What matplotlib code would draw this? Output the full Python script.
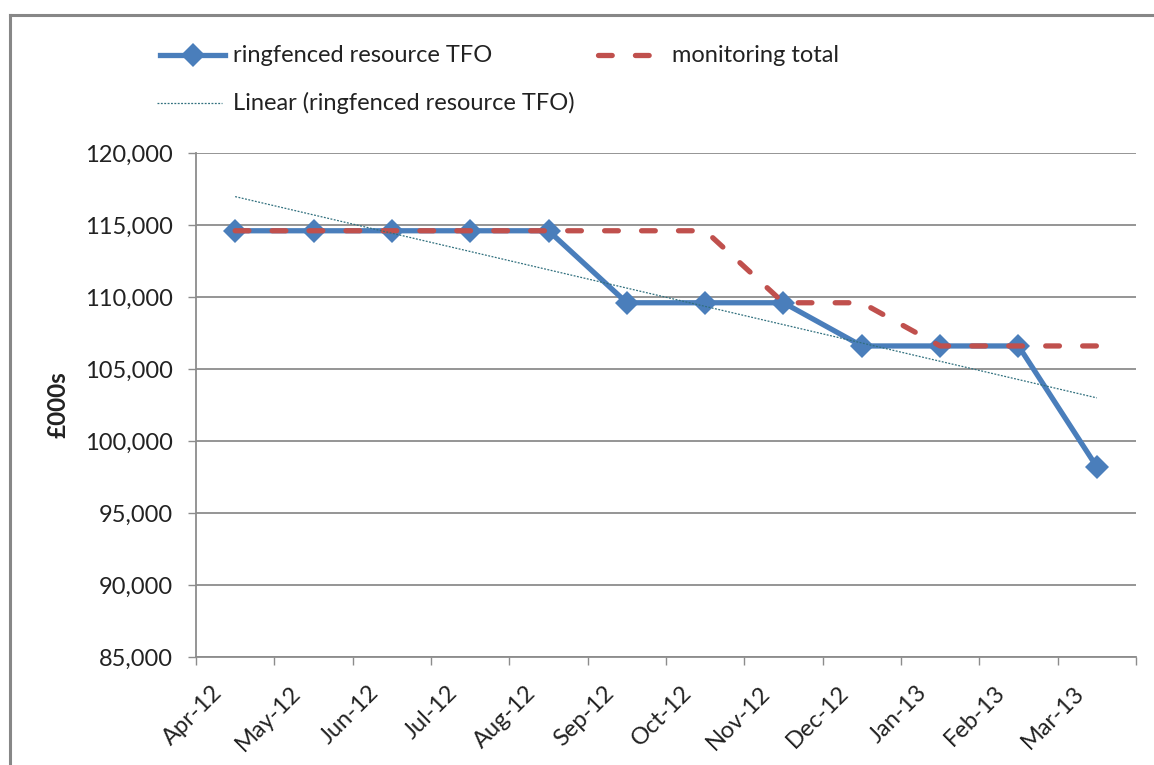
import numpy as np
import matplotlib
matplotlib.use("Agg")
import matplotlib.pyplot as plt
from matplotlib.lines import Line2D
import matplotlib.transforms as mtransforms

# ---- data ----
months = ["Apr-12", "May-12", "Jun-12", "Jul-12", "Aug-12", "Sep-12",
          "Oct-12", "Nov-12", "Dec-12", "Jan-13", "Feb-13", "Mar-13"]
ringfenced = [114600, 114600, 114600, 114600, 114600, 109600,
              109600, 109600, 106600, 106600, 106600, 98200]
monitoring = [114600, 114600, 114600, 114600, 114600, 114600,
              114600, 109600, 109600, 106600, 106600, 106600]
yticks = [85000, 90000, 95000, 100000, 105000, 110000, 115000, 120000]
ylabel = "£000s"
legend_labels = ["ringfenced resource TFO", "monitoring total",
                 "Linear (ringfenced resource TFO)"]

plt.rcParams['font.family'] = ['Lato', 'DejaVu Sans']

W, H = 1154, 765
fig = plt.figure(figsize=(W / 100, H / 100), dpi=100)
fig.patch.set_facecolor('white')

def fx(px):
    return px / W

def fy(py):
    return 1 - py / H

ax = fig.add_axes([fx(196), fy(657), fx(1136) - fx(196), fy(153) - fy(657)])

x = np.arange(len(months))
blue = '#4A7EBB'
red = '#C0504D'
teal = '#31707E'
grid_c = '#8C8C8C'
txt_c = '#222222'
dash = (0, (2.6, 4.4))

ax.plot(x, ringfenced, color=blue, lw=3.8, marker='D', markersize=12,
        markeredgewidth=0, zorder=3, solid_joinstyle='round')
ax.plot(x, monitoring, color=red, lw=3.8, linestyle=dash,
        dash_capstyle='round', zorder=4)
coef = np.polyfit(x, ringfenced, 1)
ax.plot(x, np.polyval(coef, x), color=teal, lw=0.9, linestyle=(0, (1.5, 1.2)), zorder=5)

ax.set_xlim(-0.5, len(months) - 0.5)
ax.set_ylim(yticks[0], yticks[-1])
ax.set_yticks(yticks)
ax.set_yticklabels([f"{v:,}" for v in yticks])
ax.yaxis.grid(True, color=grid_c, lw=1.3)
ax.set_axisbelow(True)

for s in ['top', 'right']:
    ax.spines[s].set_visible(False)
for s in ['left', 'bottom']:
    ax.spines[s].set_color(grid_c)
    ax.spines[s].set_linewidth(1.3)

ax.tick_params(axis='y', length=5.8, width=1.0, color=grid_c, pad=11,
               labelsize=17, labelcolor=txt_c)
ax.set_xticks(x)
ax.set_xticklabels(months, rotation=45, ha='right', va='top', fontsize=17,
                   color=txt_c)
ax.tick_params(axis='x', which='major', length=0, pad=18)
ax.set_xticks(np.arange(len(months) + 1) - 0.5, minor=True)
ax.tick_params(axis='x', which='minor', length=5.8, width=1.0, color=grid_c)
off = mtransforms.ScaledTranslation(-9 / 100, 0, fig.dpi_scale_trans)
for lab in ax.get_xticklabels():
    lab.set_transform(lab.get_transform() + off)

ax.set_ylabel(ylabel, fontsize=17.5, fontweight='bold', color=txt_c)
ax.yaxis.set_label_coords((70 - 196) / 940, 0.5)

# ---- legend (manual) ----
lt = fig.transFigure
fig.add_artist(Line2D([fx(160), fx(225)], [fy(55), fy(55)], color=blue, lw=3.8,
                      transform=lt))
fig.add_artist(Line2D([fx(192.5)], [fy(55)], color=blue, marker='D', markersize=12,
                      markeredgewidth=0, transform=lt))
fig.text(fx(233), fy(55), legend_labels[0], fontsize=17, color=txt_c,
         va='center', ha='left')
fig.add_artist(Line2D([fx(598), fx(650)], [fy(55), fy(55)], color=red, lw=3.8,
                      linestyle=dash, dash_capstyle='round', transform=lt))
fig.text(fx(672), fy(55), legend_labels[1], fontsize=17, color=txt_c,
         va='center', ha='left')
fig.add_artist(Line2D([fx(157), fx(222)], [fy(103), fy(103)], color=teal, lw=0.9,
                      linestyle=(0, (1.5, 1.2)), transform=lt))
fig.text(fx(233), fy(103), legend_labels[2], fontsize=17, color=txt_c,
         va='center', ha='left')

# ---- outer chart frame (only left and top visible) ----
fig.add_artist(Line2D([fx(9.5), fx(9.5)], [0, fy(15)], color='#878787', lw=2.2,
                      transform=lt, solid_capstyle='projecting'))
fig.add_artist(Line2D([fx(9.5), 1], [fy(15), fy(15)], color='#878787', lw=2.2,
                      transform=lt, solid_capstyle='projecting'))

fig.savefig('out.png', dpi=100, facecolor='white')
